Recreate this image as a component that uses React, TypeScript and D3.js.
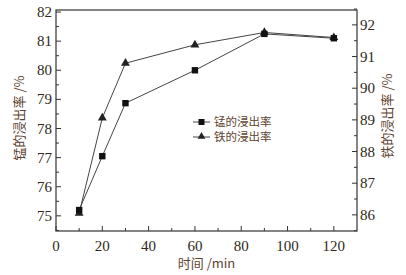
import React from "react";
import * as d3 from "d3";

const times = [10, 20, 30, 60, 90, 120];
const mnRate = [75.2, 77.05, 78.87, 80.0, 81.25, 81.1];
const feRate = [86.05, 89.06, 90.79, 91.37, 91.76, 91.6];
const xTicks = [0, 20, 40, 60, 80, 100, 120];
const leftTicks = [75, 76, 77, 78, 79, 80, 81, 82];
const rightTicks = [86, 87, 88, 89, 90, 91, 92];
const mnLabel = "锰的浸出率";
const feLabel = "铁的浸出率";
const xTitle = "时间 /min";
const leftTitle = "锰的浸出率 /%";
const rightTitle = "铁的浸出率 /%";

const W = 406, H = 275;
const L = 56, R = 357, T = 10, B = 231;
const numFont = "'Liberation Serif', 'DejaVu Serif', serif";
const cjkFont = "'Noto Sans CJK SC', 'Liberation Serif', serif";
const tickColor = "#2e2820";
const titleColor = "#5e4330";
const lineColor = "#444";

export default function App() {
  const x = d3.scaleLinear().domain([0, 130]).range([L, R]);
  const yL = d3.scaleLinear().domain([74.48, 82.07]).range([B, T]);
  const yR = d3.scaleLinear().domain([85.49, 92.47]).range([B, T]);

  const mnPts: [number, number][] = times.map((t, i) => [x(t), yL(mnRate[i])]);
  const fePts: [number, number][] = times.map((t, i) => [x(t), yR(feRate[i])]);
  const line = d3.line();

  const xMinor = d3.range(10, 130, 20);
  const leftMinor = d3.range(74.5, 82.01, 1);
  const rightMinor = d3.range(85.5, 92.51, 1);

  const tri = d3.symbol().type(d3.symbolTriangle).size(34)();

  return (
    <svg width={W} height={H} style={{ position: "absolute", left: 0, top: 0, background: "#fff" }}>
      <rect x={L} y={T} width={R - L} height={B - T} fill="none" stroke="#333" strokeWidth={1.2} />
      {xTicks.map((v) => (
        <g key={"xt" + v}>
          <line x1={x(v)} x2={x(v)} y1={B} y2={B - 5} stroke="#333" />
          <text x={x(v)} y={B + 20} textAnchor="middle" fontFamily={numFont} fontSize={15} fill={tickColor}>{v}</text>
        </g>
      ))}
      {xMinor.map((v) => (
        <line key={"xm" + v} x1={x(v)} x2={x(v)} y1={B} y2={B - 3} stroke="#333" />
      ))}
      {leftTicks.map((v) => (
        <g key={"lt" + v}>
          <line x1={L} x2={L + 5} y1={yL(v)} y2={yL(v)} stroke="#333" />
          <text x={L - 4} y={yL(v) + 5} textAnchor="end" fontFamily={numFont} fontSize={15} fill={tickColor}>{v}</text>
        </g>
      ))}
      {leftMinor.map((v) => (
        <line key={"lm" + v} x1={L} x2={L + 3} y1={yL(v)} y2={yL(v)} stroke="#333" />
      ))}
      {rightTicks.map((v) => (
        <g key={"rt" + v}>
          <line x1={R} x2={R - 5} y1={yR(v)} y2={yR(v)} stroke="#333" />
          <text x={R + 3} y={yR(v) + 5} textAnchor="start" fontFamily={numFont} fontSize={15} fill={tickColor}>{v}</text>
        </g>
      ))}
      {rightMinor.map((v) => (
        <line key={"rm" + v} x1={R} x2={R - 3} y1={yR(v)} y2={yR(v)} stroke="#333" />
      ))}
      <text x={x(65)} y={268} textAnchor="middle" fontFamily={cjkFont} fontSize={13} fill={titleColor}>{xTitle}</text>
      <text transform={`translate(24,118) rotate(-90)`} textAnchor="middle" fontFamily={cjkFont} fontSize={13} fill={titleColor}>{leftTitle}</text>
      <text transform={`translate(392,116) rotate(-90)`} textAnchor="middle" fontFamily={cjkFont} fontSize={13} fill={titleColor}>{rightTitle}</text>
      <path d={line(fePts) || ""} fill="none" stroke={lineColor} strokeWidth={1} />
      <path d={line(mnPts) || ""} fill="none" stroke={lineColor} strokeWidth={1} />
      {fePts.map(([px, py], i) => (
        <path key={"f" + i} d={tri || ""} transform={`translate(${px},${py})`} fill="#222" />
      ))}
      {mnPts.map(([px, py], i) => (
        <rect key={"m" + i} x={px - 3.2} y={py - 3.2} width={6.4} height={6.4} fill="#111" />
      ))}
      <g>
        <line x1={193} x2={210} y1={122} y2={122} stroke={lineColor} />
        <rect x={198.5} y={119} width={6} height={6} fill="#111" />
        <text x={214} y={126} fontFamily={cjkFont} fontSize={11.5} fill={titleColor}>{mnLabel}</text>
        <line x1={193} x2={210} y1={137} y2={137} stroke={lineColor} />
        <path d={d3.symbol().type(d3.symbolTriangle).size(26)() || ""} transform="translate(201.5,136.5)" fill="#222" />
        <text x={214} y={141} fontFamily={cjkFont} fontSize={11.5} fill={titleColor}>{feLabel}</text>
      </g>
    </svg>
  );
}
